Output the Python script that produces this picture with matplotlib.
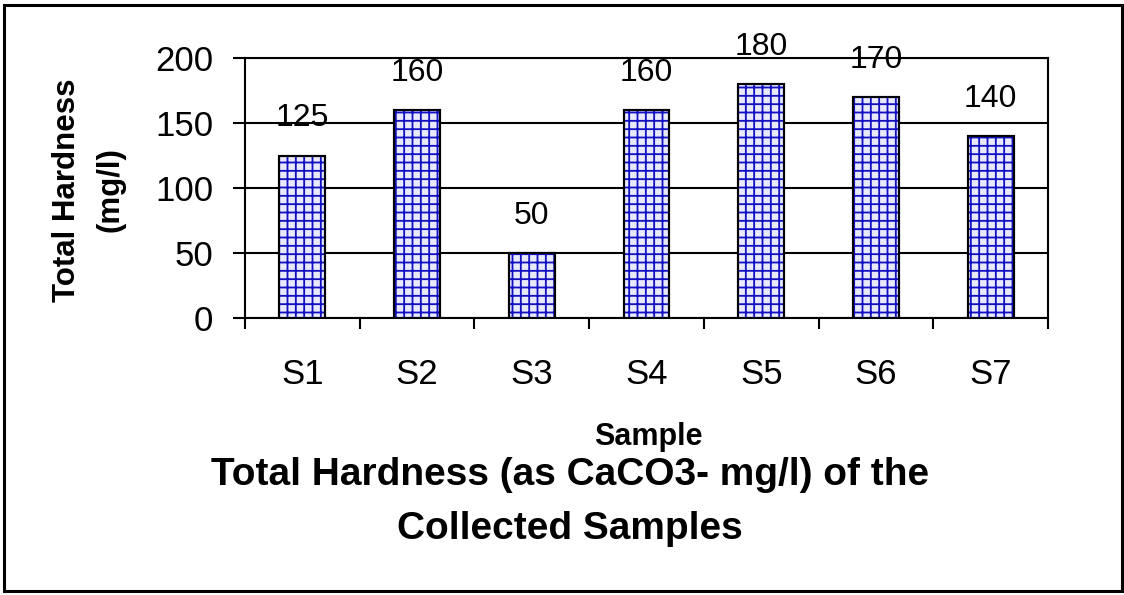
import matplotlib
matplotlib.use('Agg')
import matplotlib.pyplot as plt
from matplotlib.patches import Rectangle
import numpy as np

plt.rcParams['font.family'] = ['Liberation Sans', 'DejaVu Sans']
plt.rcParams['hatch.linewidth'] = 1.3

samples = ['S1', 'S2', 'S3', 'S4', 'S5', 'S6', 'S7']
hardness = [125, 160, 50, 160, 180, 170, 140]
y_ticks = [0, 50, 100, 150, 200]

fig = plt.figure(figsize=(11.24, 5.95), dpi=100)
ax = fig.add_axes([0.218, 0.4655, 0.7144, 0.437])

x = np.arange(len(samples))
# bars: light fill with black outline, then a blue grid hatch on top
ax.bar(x, hardness, width=0.4, color='#e8e8ff', edgecolor='black', linewidth=1.5, zorder=3)
ax.bar(x, hardness, width=0.4, color='none', edgecolor='#1010c0', hatch='++', linewidth=0, zorder=4)
ax.bar(x, hardness, width=0.4, color='none', edgecolor='black', linewidth=1.5, zorder=5)

for xi, v in zip(x, hardness):
    ax.annotate(str(v), (xi, v), xytext=(0, 21), textcoords='offset points',
                ha='center', va='baseline', fontsize=23)

ax.set_xlim(-0.5, len(samples) - 0.5)
ax.set_ylim(0, 200)
ax.set_yticks(y_ticks)
ax.tick_params(axis='y', labelsize=25, length=9, width=1.5, pad=14)

# ticks at the category boundaries, labels centred under each bar
ax.set_xticks(np.arange(len(samples) + 1) - 0.5)
ax.set_xticklabels([])
ax.set_xticks(x, minor=True)
ax.set_xticklabels(samples, minor=True)
ax.tick_params(axis='x', which='major', length=8, width=1.5)
ax.tick_params(axis='x', which='minor', length=0, labelsize=25, pad=29)

ax.grid(axis='y', color='black', linewidth=1.5, zorder=0)
for s in ax.spines.values():
    s.set_linewidth(1.5)

fig.text(89 / 1124, 1 - 190 / 595, 'Total Hardness\n(mg/l)', rotation=90,
         ha='center', va='center', multialignment='center',
         fontsize=22.5, fontweight='bold', linespacing=1.6)
fig.text(648 / 1124, 1 - 437 / 595, 'Sample', ha='center', va='center',
         fontsize=22, fontweight='bold')
fig.text(570 / 1124, 1 - 502 / 595,
         'Total Hardness (as CaCO3- mg/l) of the\nCollected Samples',
         ha='center', va='center', multialignment='center',
         fontsize=28, fontweight='bold', linespacing=1.62)

fig.patches.append(Rectangle((0.004, 0.006), 0.994, 0.986, transform=fig.transFigure,
                             fill=False, edgecolor='black', linewidth=2.2))

fig.savefig('out.png', dpi=100, facecolor='white')
